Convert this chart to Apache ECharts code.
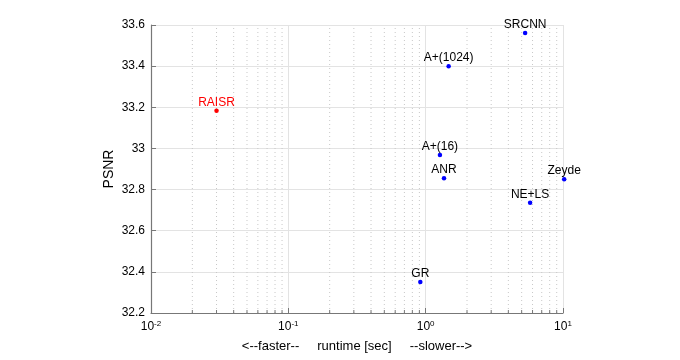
<!DOCTYPE html>
<html>
<head>
<meta charset="utf-8">
<script src="https://cdn.jsdelivr.net/npm/echarts@6/dist/echarts.min.js"></script>
<style>html,body{margin:0;padding:0;background:#fff}#c{width:680px;height:360px}</style>
</head>
<body>
<div id="c"></div>
<script>
const methods  = ['RAISR', 'SRCNN', 'A+(1024)', 'A+(16)', 'ANR', 'Zeyde', 'NE+LS', 'GR'];
const runtimes = [0.030, 5.3, 1.47, 1.27, 1.36, 10.2, 5.76, 0.914];
const psnrs    = [33.183, 33.561, 33.399, 32.968, 32.855, 32.85, 32.736, 32.351];
const xTicks   = [0.01, 0.1, 1, 10];
const xMinor   = [0.02,0.03,0.04,0.05,0.06,0.07,0.08,0.09,0.2,0.3,0.4,0.5,0.6,0.7,0.8,0.9,2,3,4,5,6,7,8,9];
const yTicks   = [32.2, 32.4, 32.6, 32.8, 33, 33.2, 33.4, 33.6];
const highlight = 'RAISR';

const FONT = '"Liberation Sans", Arial, Helvetica, sans-serif';
const yMin = yTicks[0], yMax = yTicks[yTicks.length - 1];

const chart = echarts.init(document.getElementById('c'), null, {renderer: 'canvas'});
chart.setOption({
  animation: false,
  backgroundColor: '#fff',
  textStyle: {fontFamily: FONT},
  grid: {left: 151, right: 117, top: 25, bottom: 47, containLabel: false},
  xAxis: {
    type: 'log', logBase: 10,
    min: xTicks[0], max: xTicks[xTicks.length - 1],
    name: '<--faster--     runtime [sec]     --slower-->',
    nameLocation: 'middle', nameGap: 27, nameMoveOverlap: false,
    nameTextStyle: {fontSize: 13, color: '#000', fontFamily: FONT},
    axisLine: {onZero: false, lineStyle: {color: '#777', width: 1.2}},
    axisTick: {show: true, inside: true, length: 5, lineStyle: {color: '#777'}},
    axisLabel: {
      margin: 7,
      formatter: function (v) {
        const e = Math.round(Math.log10(v));
        return '{b|10}{s|' + e + '}';
      },
      rich: {
        b: {fontSize: 12, color: '#000', fontFamily: FONT, lineHeight: 14},
        s: {fontSize: 8, color: '#000', fontFamily: FONT, verticalAlign: 'top', lineHeight: 8}
      }
    },
    splitLine: {show: true, lineStyle: {color: '#e3e3e3', width: 1}}
  },
  yAxis: {
    type: 'value',
    min: yMin, max: yMax, interval: 0.2,
    name: 'PSNR', nameLocation: 'middle', nameGap: 35, nameRotate: 90, nameMoveOverlap: false,
    nameTextStyle: {fontSize: 14, color: '#000', fontFamily: FONT},
    axisLine: {show: true, lineStyle: {color: '#777', width: 1.2}},
    axisTick: {show: true, inside: true, length: 5, lineStyle: {color: '#777'}},
    axisLabel: {fontSize: 12, color: '#000', margin: 6, fontFamily: FONT},
    splitLine: {show: true, lineStyle: {color: '#e3e3e3', width: 1}}
  },
  series: [
    {
      type: 'custom',
      silent: true,
      z: 1,
      data: xMinor.map(v => [v, yMin]),
      encode: {x: 0, y: 1},
      renderItem: function (params, api) {
        const v = api.value(0);
        const p0 = api.coord([v, yMin]);
        const p1 = api.coord([v, yMax]);
        return {
          type: 'group',
          children: [
            {type: 'line', shape: {x1: p0[0], y1: p0[1], x2: p1[0], y2: p1[1]},
             style: {stroke: '#c8c8c8', lineWidth: 1, lineDash: [1, 3]}},
            {type: 'line', shape: {x1: p0[0], y1: p0[1], x2: p0[0], y2: p0[1] - 3},
             style: {stroke: '#777', lineWidth: 1}}
          ]
        };
      }
    },
    {
      type: 'scatter',
      z: 5,
      clip: false,
      symbolSize: 4.5,
      itemStyle: {opacity: 1},
      data: methods.map((m, i) => ({
        name: m,
        value: [runtimes[i], psnrs[i]],
        itemStyle: {color: m === highlight ? '#ff0000' : '#0000ff', opacity: 1},
        label: {color: m === highlight ? '#ff0000' : '#000'}
      })),
      label: {
        show: true, position: 'top', distance: 0,
        formatter: '{b}', fontSize: 12, fontFamily: FONT
      }
    }
  ]
});
</script>
</body>
</html>
